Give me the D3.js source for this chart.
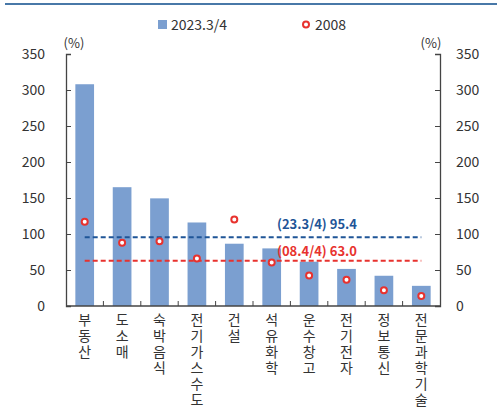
<!DOCTYPE html>
<html>
<head>
<meta charset="utf-8">
<script src="https://cdn.jsdelivr.net/npm/d3@7"></script>
<style>
  body { margin: 0; background: #fff; }
  text { font-family: "Noto Sans CJK KR", "Noto Sans", sans-serif; fill: #333; }
</style>
</head>
<body>
<svg id="chart" width="497" height="413"></svg>
<script>
const categories = ['부동산', '도소매', '숙박음식', '전기가스수도', '건설', '석유화학', '운수창고', '전기전자', '정보통신', '전문과학기술']
const values2023 = [308, 165, 149.5, 116, 86.5, 80, 61.5, 51.5, 42, 28]
const values2008 = [117, 88, 90, 66, 120, 60.5, 42.5, 36.5, 22, 14]
const yTicks = [0, 50, 100, 150, 200, 250, 300, 350]
const avg2023 = 95.4
const avg2008 = 63.0

const svg = d3.select('#chart')
const plotLeft = 66, plotRight = 440, plotTop = 54, plotBottom = 306

// top rule
svg.append('line')
    .attr('x1', 5).attr('x2', 497).attr('y1', 4).attr('y2', 4)
    .attr('stroke', '#4878a8').attr('stroke-width', 2)

const x = d3.scaleBand()
    .domain(categories)
    .range([plotLeft, plotRight])
    .paddingInner(0).paddingOuter(0)

const y = d3.scaleLinear()
    .domain([0, 350])
    .range([plotBottom, plotTop])

// axes
const yLeft = svg.append('g')
    .attr('transform', `translate(${plotLeft},0)`)
    .call(d3.axisRight(y).tickValues(yTicks).tickSize(5).tickFormat(''))
const yRight = svg.append('g')
    .attr('transform', `translate(${plotRight},0)`)
    .call(d3.axisLeft(y).tickValues(yTicks).tickSize(5).tickFormat(''))
;[yLeft, yRight].forEach(g => {
    g.select('.domain').attr('stroke', '#444').attr('stroke-width', 1.3)
    g.selectAll('.tick line').attr('stroke', '#444')
})

svg.selectAll('.ylab-l')
    .data(yTicks).enter().append('text')
    .attr('x', 45).attr('y', d => y(d) + 5)
    .attr('text-anchor', 'end')
    .style('font-size', '14px')
    .text(d => d)
svg.selectAll('.ylab-r')
    .data(yTicks).enter().append('text')
    .attr('x', 456).attr('y', d => y(d) + 5)
    .attr('text-anchor', 'start')
    .style('font-size', '14px')
    .text(d => d)

svg.append('text').attr('x', 74).attr('y', 48).attr('text-anchor', 'middle')
    .style('font-size', '13px').text('(%)')
svg.append('text').attr('x', 431).attr('y', 48).attr('text-anchor', 'middle')
    .style('font-size', '13px').text('(%)')

// bars
const barW = x.bandwidth() * 0.5
svg.selectAll('.bar')
    .data(values2023).enter().append('rect')
    .attr('x', (d, i) => x(categories[i]) + (x.bandwidth() - barW) / 2)
    .attr('y', d => y(d))
    .attr('width', barW)
    .attr('height', d => plotBottom - y(d))
    .attr('fill', '#7b9fd0')

// bottom axis
svg.append('line')
    .attr('x1', plotLeft).attr('x2', plotRight).attr('y1', plotBottom).attr('y2', plotBottom)
    .attr('stroke', '#444').attr('stroke-width', 1.3)
svg.selectAll('.xtick')
    .data(categories.slice(1)).enter().append('line')
    .attr('x1', d => x(d)).attr('x2', d => x(d))
    .attr('y1', plotBottom).attr('y2', plotBottom - 5)
    .attr('stroke', '#444')

// vertical category labels, one syllable per line
categories.forEach(c => {
    const cx = x(c) + x.bandwidth() / 2
    Array.from(c).forEach((ch, j) => {
        svg.append('text')
            .attr('x', cx).attr('y', 325 + j * 16)
            .attr('text-anchor', 'middle')
            .style('font-size', '14px')
            .text(ch)
    })
})

// average lines
const x0 = x(categories[0]) + x.bandwidth() / 2
const x1 = x(categories[categories.length - 1]) + x.bandwidth() / 2
svg.append('line')
    .attr('x1', x0).attr('x2', x1).attr('y1', y(avg2023)).attr('y2', y(avg2023))
    .attr('stroke', '#1f5597').attr('stroke-width', 2).attr('stroke-dasharray', '5,3')
svg.append('line')
    .attr('x1', x0).attr('x2', x1).attr('y1', y(avg2008)).attr('y2', y(avg2008))
    .attr('stroke', '#e8322e').attr('stroke-width', 2).attr('stroke-dasharray', '5,3')

svg.append('text')
    .attr('x', 277).attr('y', y(avg2023) - 8)
    .style('font-size', '13px').style('font-weight', 'bold').style('fill', '#1f5597')
    .text('(23.3/4) ' + avg2023.toFixed(1))
svg.append('text')
    .attr('x', 277).attr('y', y(avg2008) - 5)
    .style('font-size', '13px').style('font-weight', 'bold').style('fill', '#e8322e')
    .text('(08.4/4) ' + avg2008.toFixed(1))

// 2008 markers
svg.selectAll('.dot')
    .data(values2008).enter().append('circle')
    .attr('cx', (d, i) => x(categories[i]) + x.bandwidth() / 2)
    .attr('cy', d => y(d))
    .attr('r', 3)
    .attr('fill', '#fff')
    .attr('stroke', '#e8322e')
    .attr('stroke-width', 2)

// legend
svg.append('rect').attr('x', 158).attr('y', 20).attr('width', 9).attr('height', 9)
    .attr('fill', '#7b9fd0')
svg.append('text').attr('x', 171).attr('y', 30).style('font-size', '14px').text('2023.3/4')
svg.append('circle').attr('cx', 306).attr('cy', 24.5).attr('r', 3)
    .attr('fill', '#fff').attr('stroke', '#e8322e').attr('stroke-width', 2)
svg.append('text').attr('x', 315).attr('y', 30).style('font-size', '14px').text('2008')
</script>
</body>
</html>
